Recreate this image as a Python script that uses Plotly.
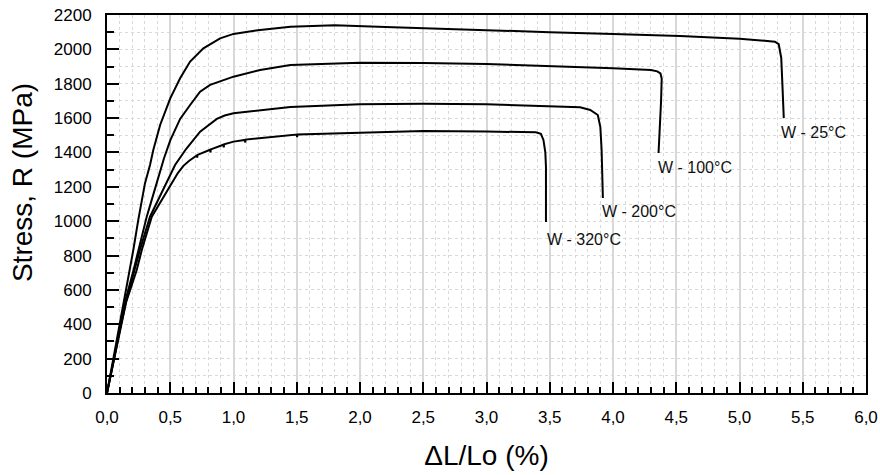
import plotly.graph_objects as go

# ---- data ----
strain_25 = [0, 0.05, 0.10, 0.15, 0.18, 0.208, 0.248, 0.30, 0.34, 0.366, 0.42, 0.50, 0.578, 0.657,
             0.762, 0.894, 1.0, 1.21, 1.45, 1.8, 2.2, 2.8, 3.5, 4.0, 4.53, 5.0, 5.2, 5.28, 5.31,
             5.33, 5.34, 5.35]
stress_25 = [0, 200, 400, 590, 716, 832, 1010, 1220, 1327, 1414, 1560, 1715, 1832, 1929,
             2006, 2064, 2090, 2113, 2132, 2140, 2130, 2115, 2100, 2090, 2078, 2062, 2052, 2045, 2030,
             1950, 1780, 1600]

strain_100 = [0, 0.05, 0.10, 0.15, 0.21, 0.248, 0.314, 0.36, 0.405, 0.45, 0.50, 0.578, 0.657, 0.736,
              0.815, 1.0, 1.21, 1.45, 2.0, 2.5, 3.0, 3.58, 4.0, 4.3, 4.35, 4.375, 4.385, 4.38,
              4.37, 4.36]
stress_100 = [0, 190, 370, 550, 716, 832, 1026, 1140, 1250, 1365, 1470, 1595, 1676, 1754,
              1793, 1841, 1880, 1909, 1922, 1921, 1915, 1903, 1890, 1880, 1872, 1860, 1830, 1700,
              1550, 1397]

strain_200 = [0, 0.05, 0.10, 0.15, 0.22, 0.26, 0.34, 0.47, 0.538, 0.625, 0.736, 0.868, 0.93, 1.0,
              1.21, 1.45, 2.0, 2.5, 3.0, 3.5, 3.74, 3.82, 3.88, 3.90, 3.91, 3.92]
stress_200 = [0, 185, 360, 530, 716, 832, 1026, 1220, 1327, 1420, 1521, 1595, 1615, 1628,
              1647, 1665, 1680, 1684, 1680, 1670, 1663, 1647, 1618, 1548, 1414, 1135]

strain_320 = [0, 0.05, 0.10, 0.15, 0.235, 0.275, 0.354, 0.51, 0.56, 0.604, 0.65, 0.71, 0.713, 0.716,
              0.80, 0.815, 0.818, 0.821, 0.92, 0.923, 0.926, 1.0, 1.09, 1.093, 1.096, 1.21, 1.45,
              1.50, 1.503, 1.506, 2.0, 2.5, 3.0, 3.39, 3.43, 3.45, 3.465, 3.47, 3.47]
stress_320 = [0, 180, 355, 525, 716, 832, 1026, 1220, 1280, 1322, 1352, 1383, 1370, 1386,
              1412, 1416, 1401, 1418, 1445, 1430, 1447, 1463, 1473, 1458, 1475, 1483, 1502,
              1504, 1490, 1505, 1515, 1525, 1522, 1517, 1508, 1473, 1400, 1316, 995]

series_names = ["W - 25°C", "W - 100°C", "W - 200°C", "W - 320°C"]
x_ticks = [0, 0.5, 1.0, 1.5, 2.0, 2.5, 3.0, 3.5, 4.0, 4.5, 5.0, 5.5, 6.0]
y_ticks = [0, 200, 400, 600, 800, 1000, 1200, 1400, 1600, 1800, 2000, 2200]

curves = [(strain_25, stress_25), (strain_100, stress_100),
          (strain_200, stress_200), (strain_320, stress_320)]

FONT = "Liberation Sans, Arial, sans-serif"

fig = go.Figure()
for (xs, ys), name in zip(curves, series_names):
    fig.add_trace(go.Scatter(x=xs, y=ys, mode="lines", name=name,
                             line=dict(color="black", width=2), showlegend=False))

# curve labels (placed near the end of each curve)
label_pos = [(5.31, 1519), (4.34, 1310), (3.90, 1054), (3.46, 891)]
for name, (lx, ly) in zip(series_names, label_pos):
    fig.add_annotation(x=lx, y=ly, xref="x", yref="y", text=name, showarrow=False,
                       xanchor="left", yanchor="middle",
                       font=dict(family=FONT, size=16, color="#111"))

# y-axis title as a rotated annotation (exact placement)
fig.add_annotation(x=-0.112, y=0.558, xref="paper", yref="paper", text="Stress, R (MPa)",
                   showarrow=False, textangle=-90, xanchor="center", yanchor="middle",
                   font=dict(family=FONT, size=28, color="black"))

fig.update_layout(
    width=880, height=475,
    margin=dict(l=107, r=14, t=15, b=82),
    paper_bgcolor="white", plot_bgcolor="white",
    separators=", ",
    font=dict(family=FONT, size=17, color="black"),
)

fig.update_xaxes(
    range=[0, 6], tickvals=x_ticks, tickformat=".1f", automargin=False,
    showline=True, linecolor="black", linewidth=2, mirror=True,
    ticks="inside", ticklen=11, tickwidth=2, tickcolor="black",
    ticklabelstandoff=8, ticklabeloverflow="allow",
    showgrid=True, gridcolor="#d8d8d8", gridwidth=2,
    zeroline=False,
    minor=dict(dtick=0.1, ticks="inside", ticklen=6, tickwidth=2, tickcolor="black",
               showgrid=True, gridcolor="#d9d9d9", gridwidth=1, griddash="3px,3px"),
    tickfont=dict(family=FONT, size=17),
    title=dict(text="ΔL/Lo (%)", font=dict(family=FONT, size=28), standoff=19),
)
fig.update_yaxes(
    range=[0, 2200], tickvals=y_ticks, automargin=False,
    showline=True, linecolor="black", linewidth=2, mirror=True,
    ticks="inside", ticklen=12, tickwidth=2, tickcolor="black",
    ticklabelstandoff=10, ticklabeloverflow="allow",
    showgrid=True, gridcolor="#d9d9d9", gridwidth=1, griddash="3px,3px",
    zeroline=False,
    minor=dict(dtick=100, ticks="inside", ticklen=7, tickwidth=2, tickcolor="black",
               showgrid=True, gridcolor="#d9d9d9", gridwidth=1, griddash="3px,3px"),
    tickfont=dict(family=FONT, size=17),
)

# remove the default 8px page margin so the 880x475 figure fills the window exactly
fig.write_html("out.html", config={"displayModeBar": False},
               post_script="document.body.style.margin='0';document.body.style.overflow='hidden';")
